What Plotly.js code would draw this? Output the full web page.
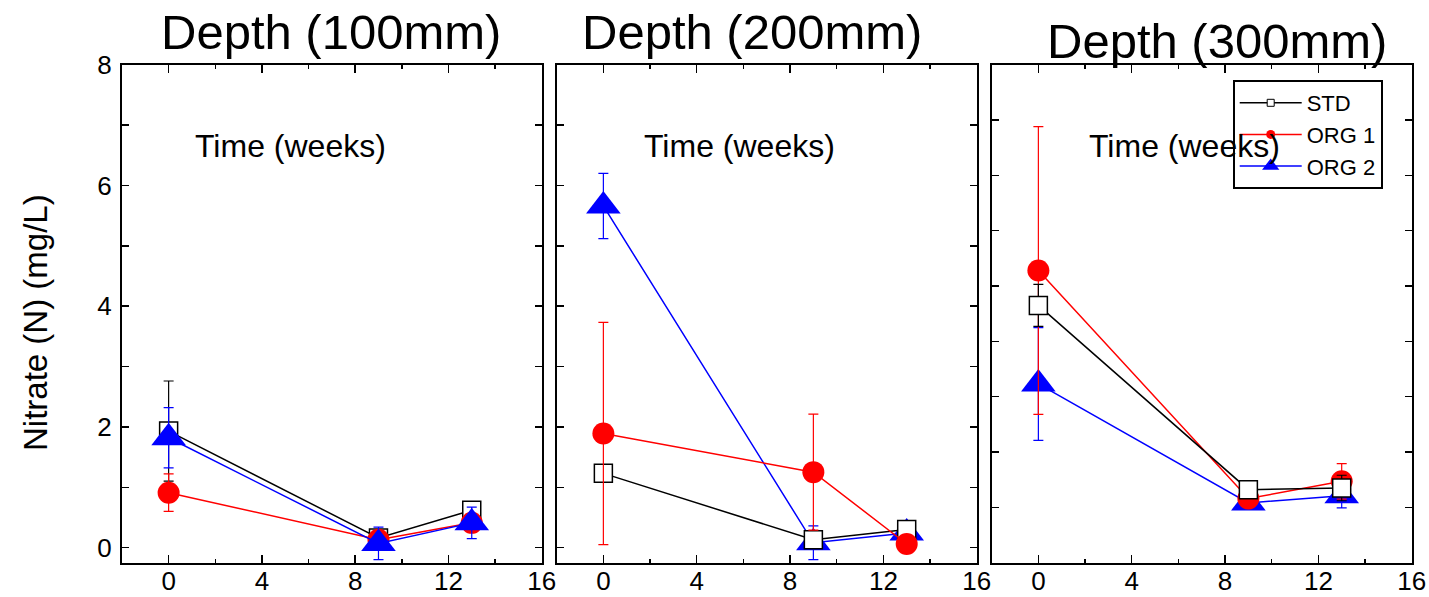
<!DOCTYPE html>
<html><head><meta charset="utf-8">
<script src="https://cdn.plot.ly/plotly-3.0.1.min.js"></script>
<style>html,body{margin:0;padding:0;background:#fff;}#chart{width:1429px;height:597px;}</style>
</head><body><div id="chart"></div>
<script>
// ---- data ----
const weeks = [0, 9, 13];
const seriesNames = ['STD', 'ORG 1', 'ORG 2'];
const panelTitles = ['Depth (100mm)', 'Depth (200mm)', 'Depth (300mm)'];
const xTitleText = 'Time (weeks)';
const yTitleText = 'Nitrate (N) (mg/L)';
const xTickVals = [0, 4, 8, 12, 16];
const yTickVals = [0, 2, 4, 6, 8];

// Depth 100 mm
const std100 = [1.93, 0.16, 0.62];
const std100Err = [0.83, 0.05, 0.10];
const org1_100 = [0.91, 0.13, 0.41];
const org1_100Err = [0.31, 0.05, 0.15];
const org2_100 = [1.82, 0.07, 0.41];
const org2_100Err = [0.50, 0.27, 0.26];

// Depth 200 mm
const std200 = [1.23, 0.13, 0.30];
const std200Err = [0.10, 0.10, 0.05];
const org1_200 = [1.89, 1.25, 0.06];
const org1_200Err = [1.84, 0.96, 0.05];
const org2_200 = [5.66, 0.08, 0.24];
const org2_200Err = [0.54, 0.28, 0.10];

// Depth 300 mm (own y scale)
const std300 = [3.65, 0.32, 0.35];
const std300Err = [0.38, 0.08, 0.23];
const org1_300 = [4.28, 0.16, 0.47];
const org1_300Err = [2.60, 0.10, 0.32];
const org2_300 = [2.23, 0.08, 0.21];
const org2_300Err = [1.02, 0.10, 0.22];

// ---- styling ----
const W = 1429, H = 597;
const FONT = 'Arial, "Liberation Sans", sans-serif';
const fx = p => p / W;
const fy = p => 1 - p / H;

const style = {
  STD:   {color: '#000000', marker: {symbol: 'square', size: 18, color: '#ffffff', line: {color: '#000000', width: 1.5}}, legendMarker: {symbol: 'square', size: 7, color: '#ffffff', line: {color: '#000000', width: 1}}},
  'ORG 1': {color: '#ff0000', marker: {symbol: 'circle', size: 22, color: '#ff0000', line: {width: 0}}, legendMarker: {symbol: 'circle', size: 9, color: '#ff0000', line: {width: 0}}},
  'ORG 2': {color: '#0000ff', marker: {symbol: 'triangle-up', size: 30, color: '#0000ff', line: {width: 0}}, legendMarker: {symbol: 'triangle-up', size: 15, color: '#0000ff', line: {width: 0}}}
};

function mk(name, y, err, ax) {
  const s = style[name];
  return {
    type: 'scatter', mode: 'lines+markers', name: name, showlegend: false,
    x: weeks, y: y, xaxis: 'x' + ax, yaxis: 'y' + ax,
    line: {color: s.color, width: 1.5},
    marker: s.marker,
    error_y: {type: 'data', array: err, visible: true, color: s.color, thickness: 1.2, width: 5},
    cliponaxis: false
  };
}

const traces = [
  mk('STD', std100, std100Err, ''), mk('ORG 1', org1_100, org1_100Err, ''), mk('ORG 2', org2_100, org2_100Err, ''),
  mk('ORG 2', org2_200, org2_200Err, '2'), mk('STD', std200, std200Err, '2'), mk('ORG 1', org1_200, org1_200Err, '2'),
  mk('ORG 2', org2_300, org2_300Err, '3'), mk('ORG 1', org1_300, org1_300Err, '3'), mk('STD', std300, std300Err, '3')
];
seriesNames.forEach(n => {
  const s = style[n];
  traces.push({type: 'scatter', mode: 'lines+markers', name: n, x: [null], y: [null], xaxis: 'x3', yaxis: 'y3',
    line: {color: s.color, width: 1.5}, marker: s.legendMarker, showlegend: true});
});

const yDom = [fy(562.7), fy(64.7)];
function xAxis(d0, d1, anchor) {
  return {
    domain: [fx(d0), fx(d1)], anchor: anchor, range: [-2, 16],
    tickmode: 'array', tickvals: xTickVals, ticktext: xTickVals.map(String),
    ticks: 'inside', ticklen: 8, tickwidth: 1.5, tickcolor: '#000',
    minor: {ticks: 'inside', ticklen: 4, tickwidth: 1.5, tickcolor: '#000', tickmode: 'linear', tick0: 0, dtick: 2, showgrid: false},
    mirror: 'ticks', showline: true, linewidth: 2, linecolor: '#000',
    showgrid: false, zeroline: false, ticklabelstandoff: -6,
    tickfont: {family: FONT, size: 26, color: '#000'}
  };
}
function yAxis(anchor, range, labels) {
  return {
    domain: yDom, anchor: anchor, range: range,
    tickmode: 'linear', tick0: 0, dtick: labels ? 2 : 1, showticklabels: labels,
    ticks: 'inside', ticklen: 7, tickwidth: 1.5, tickcolor: '#000',
    minor: labels ? {ticks: 'inside', ticklen: 7, tickwidth: 1.5, tickcolor: '#000', tickmode: 'linear', tick0: 0, dtick: 1, showgrid: false} : undefined,
    mirror: 'ticks', showline: true, linewidth: 2, linecolor: '#000',
    showgrid: false, zeroline: false, ticklabelstandoff: 3,
    tickfont: {family: FONT, size: 26, color: '#000'}
  };
}

const ann = [];
const titlePos = [[331, 32], [752, 32], [1217, 41]];
panelTitles.forEach((t, i) => ann.push({text: t, xref: 'paper', yref: 'paper', x: fx(titlePos[i][0]), y: fy(titlePos[i][1]),
  xanchor: 'center', yanchor: 'middle', showarrow: false, font: {family: FONT, size: 49, color: '#000'}}));
const timePos = [[290, 146], [739, 146], [1184, 146]];
timePos.forEach(p => ann.push({text: xTitleText, xref: 'paper', yref: 'paper', x: fx(p[0]), y: fy(p[1]),
  xanchor: 'center', yanchor: 'middle', showarrow: false, font: {family: FONT, size: 32, color: '#000'}}));
ann.push({text: yTitleText, xref: 'paper', yref: 'paper', x: fx(35), y: fy(323), textangle: -90,
  xanchor: 'center', yanchor: 'middle', showarrow: false, font: {family: FONT, size: 33, color: '#000'}});

const layout = {
  width: W, height: H, margin: {l: 0, r: 0, t: 0, b: 0},
  paper_bgcolor: '#fff', plot_bgcolor: 'rgba(0,0,0,0)',
  font: {family: FONT, color: '#000'},
  xaxis: xAxis(122, 541.7, 'y'), yaxis: yAxis('x', [-0.25, 8], true),
  xaxis2: xAxis(556.7, 976.7, 'y2'), yaxis2: yAxis('x2', [-0.25, 8], false),
  xaxis3: xAxis(991.7, 1411.7, 'y3'), yaxis3: yAxis('x3', [-1, 8], false),
  showlegend: true,
  legend: {x: fx(1232.7), y: fy(80), xanchor: 'left', yanchor: 'top', bgcolor: 'rgba(0,0,0,0)',
    bordercolor: '#000', borderwidth: 2, font: {family: FONT, size: 22, color: '#000'}, itemwidth: 62, tracegroupgap: 0},
  annotations: ann
};

Plotly.newPlot('chart', traces, layout, {staticPlot: true, displayModeBar: false});
</script></body></html>
